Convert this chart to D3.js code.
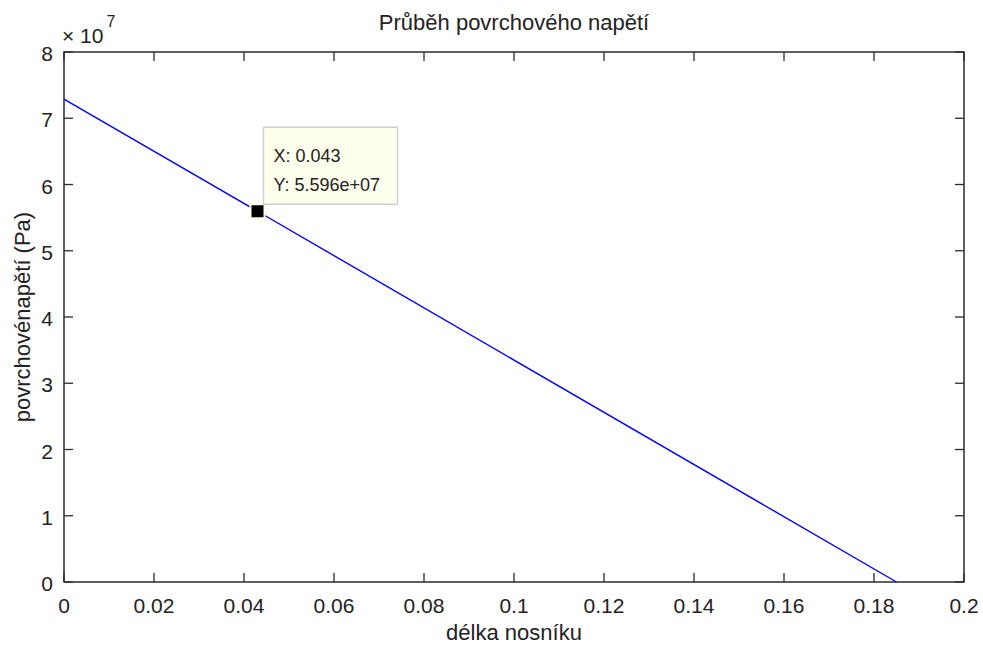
<!DOCTYPE html>
<html>
<head>
<meta charset="utf-8">
<script src="https://cdn.jsdelivr.net/npm/d3@7"></script>
<style>
  body { margin: 0; background: #fff; }
  text { font-family: "Liberation Sans", Arial, sans-serif; fill: #222; }
</style>
</head>
<body>
<div id="chart"></div>
<script>
// data
const lengthX = [0, 0.043, 0.185];            // délka nosníku (m)
const stressY = [7.29e7, 5.596e7, 0];         // povrchové napětí (Pa)
const xTicks = d3.range(0, 0.2001, 0.02);
const yTicks = d3.range(0, 8.001, 1);          // in units of 1e7
const tipX = 0.043;
const tipY = 5.596e7;

const W = 983, H = 655;
const margin = { top: 52, right: 19, bottom: 73, left: 64 };
const iw = W - margin.left - margin.right;
const ih = H - margin.top - margin.bottom;

const svg = d3.select("#chart").append("svg")
  .attr("width", W)
  .attr("height", H);

const g = svg.append("g")
  .attr("transform", `translate(${margin.left},${margin.top})`);

const x = d3.scaleLinear().domain([0, 0.2]).range([0, iw]);
const y = d3.scaleLinear().domain([0, 8e7]).range([ih, 0]);

const axisColor = "#2b2b2b";
const tickLen = 9;
const fmtX = d => d === 0 ? "0" : d3.format(".2~f")(d);

// bottom + top ticks (inward)
xTicks.forEach(t => {
  const px = x(t);
  g.append("line").attr("x1", px).attr("x2", px).attr("y1", ih).attr("y2", ih - tickLen)
    .attr("stroke", axisColor).attr("stroke-width", 1.3);
  g.append("line").attr("x1", px).attr("x2", px).attr("y1", 0).attr("y2", tickLen)
    .attr("stroke", axisColor).attr("stroke-width", 1.3);
  g.append("text").attr("x", px).attr("y", ih + 31)
    .attr("text-anchor", "middle").style("font-size", "21px")
    .text(fmtX(+t.toFixed(2)));
});

// left + right ticks
yTicks.forEach(t => {
  const py = y(t * 1e7);
  g.append("line").attr("x1", 0).attr("x2", tickLen).attr("y1", py).attr("y2", py)
    .attr("stroke", axisColor).attr("stroke-width", 1.3);
  g.append("line").attr("x1", iw).attr("x2", iw - tickLen).attr("y1", py).attr("y2", py)
    .attr("stroke", axisColor).attr("stroke-width", 1.3);
  g.append("text").attr("x", -11).attr("y", py + 9)
    .attr("text-anchor", "end").style("font-size", "21px")
    .text(t);
});

// box
g.append("rect").attr("width", iw).attr("height", ih)
  .attr("fill", "none").attr("stroke", axisColor).attr("stroke-width", 1.5);

// exponent label
const expo = g.append("text").attr("x", -2).attr("y", -9).style("font-size", "21px");
expo.append("tspan").text("\u00d7 10");
expo.append("tspan").attr("dy", -16).style("font-size", "16px").attr("dx", 3).text("7");

// the line
const pts = lengthX.map((v, i) => [v, stressY[i]]);
g.append("path")
  .datum(pts)
  .attr("fill", "none")
  .attr("stroke", "#0000ff")
  .attr("stroke-width", 1.4)
  .attr("d", d3.line().x(d => x(d[0])).y(d => y(d[1])));

// data tip marker
const mx = x(tipX), my = y(tipY);
g.append("rect").attr("x", mx - 8).attr("y", my - 8).attr("width", 16).attr("height", 16)
  .attr("fill", "#ffffe0");
g.append("rect").attr("x", mx - 6).attr("y", my - 6).attr("width", 12).attr("height", 12)
  .attr("fill", "#000");

// data tip box
const bx = mx + 6, by = my - 84;
g.append("rect").attr("x", bx).attr("y", by).attr("width", 134).attr("height", 77)
  .attr("fill", "#ffffee").attr("stroke", "#cfcfcf").attr("stroke-width", 1.5);
g.append("text").attr("x", bx + 10).attr("y", by + 35).style("font-size", "18px")
  .text("X: " + tipX);
g.append("text").attr("x", bx + 10).attr("y", by + 64).style("font-size", "18px")
  .text("Y: " + d3.format(".4~f")(tipY / 1e7) + "e+07");

// title & labels
svg.append("text").attr("x", margin.left + iw / 2).attr("y", 30)
  .attr("text-anchor", "middle").style("font-size", "22px")
  .text("Průběh povrchového napětí");

svg.append("text").attr("x", margin.left + iw / 2).attr("y", 640)
  .attr("text-anchor", "middle").style("font-size", "22px")
  .text("délka nosníku");

svg.append("text")
  .attr("transform", `translate(30,${margin.top + ih / 2}) rotate(-90)`)
  .attr("text-anchor", "middle").style("font-size", "22px")
  .text("povrchovénapětí (Pa)");
</script>
</body>
</html>
